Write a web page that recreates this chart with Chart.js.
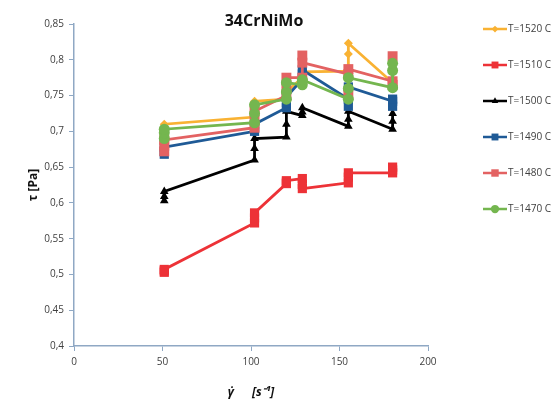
<!DOCTYPE html>
<html>
<head>
<meta charset="utf-8">
<script src="https://cdn.jsdelivr.net/npm/chart.js@4.4.1/dist/chart.umd.min.js"></script>
<style>
  body { margin: 0; background: #fff; }
</style>
</head>
<body>
<canvas id="myChart" width="557" height="403"></canvas>
<script>
// shear rate of each measurement (3 repeats per rate)
var shearRate = [51, 51, 51, 102, 102, 102, 120, 120, 120, 129, 129, 129, 155, 155, 155, 180, 180, 180];

var tau1520 = [0.700, 0.705, 0.710, 0.720, 0.730, 0.742, 0.745, 0.750, 0.755, 0.775, 0.780, 0.783, 0.784, 0.808, 0.823, 0.768, 0.770, 0.772];
var tau1510 = [0.503, 0.505, 0.507, 0.572, 0.579, 0.586, 0.627, 0.629, 0.631, 0.634, 0.626, 0.620, 0.628, 0.636, 0.642, 0.642, 0.646, 0.650];
var tau1500 = [0.603, 0.609, 0.616, 0.660, 0.676, 0.690, 0.692, 0.710, 0.728, 0.722, 0.727, 0.733, 0.707, 0.717, 0.728, 0.703, 0.714, 0.725];
var tau1490 = [0.668, 0.672, 0.678, 0.700, 0.705, 0.710, 0.733, 0.740, 0.748, 0.773, 0.780, 0.786, 0.745, 0.735, 0.762, 0.742, 0.735, 0.745];
var tau1480 = [0.672, 0.680, 0.688, 0.705, 0.715, 0.728, 0.750, 0.762, 0.775, 0.775, 0.806, 0.796, 0.780, 0.752, 0.787, 0.770, 0.765, 0.805];
var tau1470 = [0.690, 0.698, 0.703, 0.712, 0.725, 0.737, 0.745, 0.755, 0.768, 0.765, 0.770, 0.772, 0.745, 0.760, 0.775, 0.761, 0.785, 0.795];

var seriesNames = ["T=1520 C", "T=1510 C", "T=1500 C", "T=1490 C", "T=1480 C", "T=1470 C"];
var seriesValues = [tau1520, tau1510, tau1500, tau1490, tau1480, tau1470];
var seriesColors = ["#F9B233", "#ED3237", "#000000", "#1F5A96", "#E36262", "#74B64F"];
var seriesMarkers = ["rectRot", "rect", "triangle", "rect", "rect", "circle"];
var markerSizes = [4.5, 6.5, 5, 6.5, 7, 5.5];

var xTicks = [0, 50, 100, 150, 200];
var yTicks = [0.4, 0.45, 0.5, 0.55, 0.6, 0.65, 0.7, 0.75, 0.8, 0.85];

var axisColor = "#8FA8C4";
var textColor = "#404040";

var datasets = seriesNames.map(function (name, i) {
  return {
    label: name,
    data: shearRate.map(function (x, j) { return { x: x, y: seriesValues[i][j] }; }),
    showLine: true,
    borderColor: seriesColors[i],
    backgroundColor: seriesColors[i],
    borderWidth: 2.8,
    pointStyle: seriesMarkers[i],
    pointRadius: markerSizes[i],
    pointBorderWidth: 0,
    order: 6 - i
  };
});

function marker(ctx, style, x, y, r) {
  ctx.beginPath();
  if (style == "rect") {
    var s = r * Math.SQRT1_2;
    ctx.rect(x - s, y - s, 2 * s, 2 * s);
  } else if (style == "rectRot") {
    ctx.moveTo(x, y - r); ctx.lineTo(x + r, y); ctx.lineTo(x, y + r); ctx.lineTo(x - r, y);
  } else if (style == "triangle") {
    ctx.moveTo(x, y - r); ctx.lineTo(x + r * 0.87, y + r * 0.5); ctx.lineTo(x - r * 0.87, y + r * 0.5);
  } else {
    ctx.arc(x, y, r, 0, Math.PI * 2);
  }
  ctx.closePath();
  ctx.fill();
}

// title + legend drawn on the canvas
var extras = {
  id: "extras",
  afterDraw: function (chart) {
    var ctx = chart.ctx;
    ctx.save();
    ctx.fillStyle = "#111";
    ctx.font = "bold 16px 'Open Sans', sans-serif";
    ctx.textAlign = "center";
    ctx.textBaseline = "middle";
    ctx.fillText("34CrNiMo", 264, 21);

    ctx.font = "10px 'Open Sans', sans-serif";
    ctx.textAlign = "left";
    for (var i = 0; i < seriesNames.length; i++) {
      var y = 29 + i * 36;
      ctx.strokeStyle = seriesColors[i];
      ctx.fillStyle = seriesColors[i];
      ctx.lineWidth = 2.5;
      ctx.beginPath();
      ctx.moveTo(483, y);
      ctx.lineTo(507, y);
      ctx.stroke();
      marker(ctx, seriesMarkers[i], 495, y, markerSizes[i] * 0.75);
      ctx.fillStyle = textColor;
      ctx.fillText(seriesNames[i], 508, y);
    }
    ctx.restore();
  }
};

new Chart("myChart", {
  type: "scatter",
  data: { datasets: datasets },
  options: {
    responsive: false,
    animation: false,
    layout: { padding: { left: 0, right: 129, top: 24, bottom: 0 } },
    plugins: {
      legend: { display: false },
      tooltip: { enabled: false }
    },
    scales: {
      x: {
        type: "linear",
        min: 0,
        max: 200,
        afterBuildTicks: function (s) { s.ticks = xTicks.map(function (v) { return { value: v }; }); },
        afterFit: function (s) { s.height = 57; },
        grid: { display: true, drawOnChartArea: false, drawTicks: true, tickLength: 5, color: axisColor },
        border: { color: axisColor, width: 1.5 },
        ticks: { color: textColor, font: { size: 10, family: "'Open Sans', sans-serif" }, padding: 5, maxRotation: 0 },
        title: {
          display: true,
          text: "γ̇\u2003\u2002[s⁻¹]",
          color: "#111",
          font: { size: 12, weight: "bold", style: "italic", family: "'Open Sans', sans-serif" },
          padding: { top: 0, bottom: 3 }
        }
      },
      y: {
        min: 0.4,
        max: 0.85,
        afterBuildTicks: function (s) { s.ticks = yTicks.map(function (v) { return { value: v }; }); },
        afterFit: function (s) { s.width = 74; },
        grid: { display: true, drawOnChartArea: false, drawTicks: true, tickLength: 5, color: axisColor },
        border: { color: axisColor, width: 1.5 },
        ticks: {
          color: textColor,
          font: { size: 10, family: "'Open Sans', sans-serif" },
          padding: 5,
          callback: function (v) { return String(Math.round(v * 100) / 100).replace(".", ","); }
        },
        title: {
          display: true,
          text: "τ [Pa]",
          color: "#111",
          font: { size: 12, weight: "bold", family: "'Open Sans', sans-serif" },
          padding: { top: 26, bottom: 0 }
        }
      }
    }
  },
  plugins: [extras]
});
</script>
</body>
</html>
